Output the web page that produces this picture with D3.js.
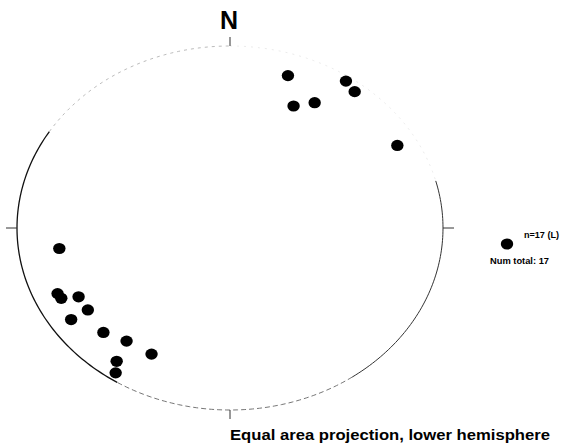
<!DOCTYPE html>
<html>
<head>
<meta charset="utf-8">
<script src="https://cdn.jsdelivr.net/npm/d3@7"></script>
<style>
  body { margin: 0; background: #fff; }
  svg { display: block; font-family: "Liberation Sans", Arial, sans-serif; }
</style>
</head>
<body>
<svg id="chart" width="561" height="447"></svg>
<script>
// lineations, trend / plunge in degrees
const trends   = [18, 34, 38, 24, 30, 60, 262, 246, 244, 242, 236, 236, 226, 218, 208, 216, 214];
const plunges  = [13, 3, 5.5, 27.5, 21.6, 10.2, 20.2, 12.4, 12.9, 20.6, 20.6, 11, 18.5, 22.2, 22.6, 10.4, 4.5];
const legendLabel = "n=17 (L)";
const totalLabel = "Num total: 17";
const caption = "Equal area projection, lower hemisphere";

const width = 561, height = 447;
const svg = d3.select("#chart");

// projection space is [-1,1] on both axes, the net is stretched a bit horizontally
const x = d3.scaleLinear().domain([-1, 1]).range([17, 443]);
const y = d3.scaleLinear().domain([-1, 1]).range([410, 46]);

// equal area (Schmidt) projection of a line
function project(trend, plunge) {
  const r = Math.SQRT2 * Math.sin((90 - plunge) / 2 * Math.PI / 180);
  const t = trend * Math.PI / 180;
  return [r * Math.sin(t), r * Math.cos(t)];
}

// primitive circle, drawn in pieces since the line is uneven
const arc = d3.line().x(d => x(Math.sin(d * Math.PI / 180))).y(d => y(Math.cos(d * Math.PI / 180)));
const pieces = [
  {from: 0, to: 75, stroke: "#e6e6e6", w: 0.8, dash: "2,5"},
  {from: 75, to: 145, stroke: "#333", w: 1, dash: null},
  {from: 145, to: 212, stroke: "#666", w: 0.9, dash: "5,3"},
  {from: 212, to: 302, stroke: "#111", w: 1.3, dash: null},
  {from: 302, to: 360, stroke: "#aaa", w: 0.8, dash: "3,4"}
];
pieces.forEach(p => {
  svg.append("path")
    .attr("d", arc(d3.range(p.from, p.to + 0.5, 1)))
    .attr("fill", "none")
    .attr("stroke", p.stroke)
    .attr("stroke-width", p.w)
    .attr("stroke-dasharray", p.dash);
});

// N / E / S / W ticks, outside the circle
const ticks = [0, 90, 180, 270];
svg.selectAll("line.tick").data(ticks).join("line")
  .attr("class", "tick")
  .attr("x1", d => x(Math.sin(d * Math.PI / 180)))
  .attr("y1", d => y(Math.cos(d * Math.PI / 180)))
  .attr("x2", d => x(Math.sin(d * Math.PI / 180)) + Math.sin(d * Math.PI / 180) * 11)
  .attr("y2", d => y(Math.cos(d * Math.PI / 180)) - Math.cos(d * Math.PI / 180) * 9)
  .attr("stroke", "#333")
  .attr("stroke-width", 1);

svg.append("text")
  .attr("x", x(0) - 1).attr("y", 29)
  .attr("text-anchor", "middle")
  .attr("font-size", 25).attr("font-weight", "bold")
  .text("N");

// data points
const pts = trends.map((t, i) => project(t, plunges[i]));
svg.selectAll("ellipse.pt").data(pts).join("ellipse")
  .attr("class", "pt")
  .attr("cx", d => x(d[0]))
  .attr("cy", d => y(d[1]))
  .attr("rx", 6.2).attr("ry", 5.6)
  .attr("fill", "#000");

// legend
svg.append("ellipse").attr("cx", 507).attr("cy", 244).attr("rx", 6.2).attr("ry", 5.6).attr("fill", "#000");
svg.append("text").attr("x", 524).attr("y", 238)
  .attr("font-size", 8.5).attr("font-weight", "bold")
  .attr("textLength", 35).attr("lengthAdjust", "spacingAndGlyphs")
  .text(legendLabel);
svg.append("text").attr("x", 490).attr("y", 264)
  .attr("font-size", 8.5).attr("font-weight", "bold")
  .attr("textLength", 59).attr("lengthAdjust", "spacingAndGlyphs")
  .text(totalLabel);

svg.append("text").attr("x", 230).attr("y", 439.5)
  .attr("font-size", 15).attr("font-weight", "bold")
  .attr("textLength", 320).attr("lengthAdjust", "spacingAndGlyphs")
  .text(caption);
</script>
</body>
</html>
